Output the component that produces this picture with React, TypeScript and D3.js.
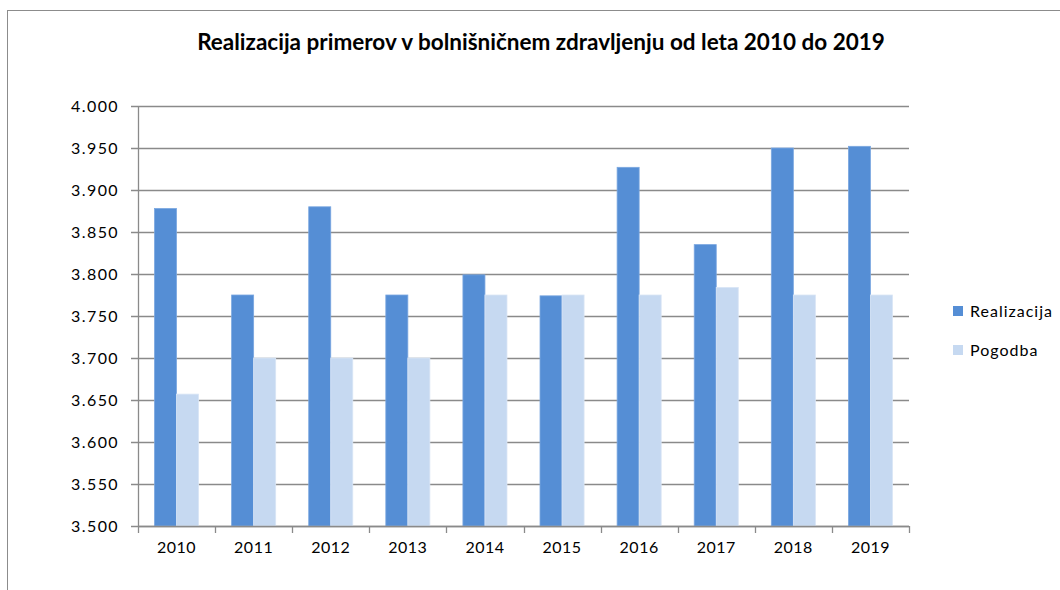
import React, { useRef, useEffect } from 'react';
import * as d3 from 'd3';

const years = ['2010', '2011', '2012', '2013', '2014', '2015', '2016', '2017', '2018', '2019'];
const realizacija = [3.878, 3.775, 3.880, 3.775, 3.799, 3.774, 3.927, 3.835, 3.950, 3.952];
const pogodba = [3.657, 3.700, 3.700, 3.700, 3.775, 3.775, 3.775, 3.784, 3.775, 3.775];
const yTicks = [3.5, 3.55, 3.6, 3.65, 3.7, 3.75, 3.8, 3.85, 3.9, 3.95, 4.0];
const seriesNames = ['Realizacija', 'Pogodba'];
const seriesColors = ['#558ED5', '#C6D9F1'];
const title = 'Realizacija primerov v bolnišničnem zdravljenju od leta 2010 do 2019';

const W = 1060;
const H = 590;
const FONT = 'Lato, "Open Sans", sans-serif';

const App: React.FC = () => {
    const svgRef = useRef<SVGSVGElement>(null);

    useEffect(() => {
        if (!svgRef.current) return;
        const svg = d3.select(svgRef.current);
        svg.selectAll('*').remove();

        const plot = { left: 138, right: 909, top: 106, bottom: 526 };

        // chart frame
        svg.append('rect')
            .attr('x', 7.5).attr('y', 10.5)
            .attr('width', W + 20).attr('height', H + 20)
            .attr('fill', '#fff')
            .attr('stroke', '#8c8c8c')
            .attr('stroke-width', 1);

        svg.append('text')
            .attr('x', 541).attr('y', 50)
            .attr('text-anchor', 'middle')
            .attr('font-family', FONT)
            .attr('font-weight', 'bold')
            .attr('font-size', 22.5)
            .attr('fill', '#000')
            .text(title);

        const y = d3.scaleLinear().domain([3.5, 4.0]).range([plot.bottom, plot.top]);
        const x = d3.scaleBand().domain(years).range([plot.left, plot.right]).paddingInner(0).paddingOuter(0);
        const inner = d3.scaleBand().domain(seriesNames)
            .range([0, x.bandwidth()]).paddingInner(0).paddingOuter(0.75);

        const g = svg.append('g');

        // grid lines
        g.selectAll('.grid')
            .data(yTicks)
            .enter().append('line')
            .attr('x1', plot.left - 7).attr('x2', plot.right)
            .attr('y1', d => Math.round(y(d)) + 0.5).attr('y2', d => Math.round(y(d)) + 0.5)
            .attr('stroke', '#8a8a8a')
            .attr('stroke-width', 1.3);

        // y labels
        g.selectAll('.ylab')
            .data(yTicks)
            .enter().append('text')
            .attr('x', 119)
            .attr('y', d => y(d) + 6)
            .attr('text-anchor', 'end')
            .attr('font-family', FONT)
            .attr('font-size', 16)
            .attr('letter-spacing', 1.4)
            .attr('fill', '#000')
            .text(d => d.toFixed(3));

        // bars
        const series = [realizacija, pogodba];
        series.forEach((vals, si) => {
            g.selectAll(`.bar${si}`)
                .data(vals)
                .enter().append('rect')
                .attr('x', (_d, i) => x(years[i])! + inner(seriesNames[si])!)
                .attr('y', d => y(d))
                .attr('width', inner.bandwidth())
                .attr('height', d => plot.bottom - y(d))
                .attr('fill', seriesColors[si])
                .attr('stroke', si === 0 ? '#7aa7e0' : '#d9e5f5')
                .attr('stroke-width', 0.8);
        });

        // axes
        g.append('line')
            .attr('x1', plot.left + 0.5).attr('x2', plot.left + 0.5)
            .attr('y1', plot.top).attr('y2', plot.bottom)
            .attr('stroke', '#8a8a8a').attr('stroke-width', 1.3);
        g.append('line')
            .attr('x1', plot.left).attr('x2', plot.right)
            .attr('y1', plot.bottom + 0.5).attr('y2', plot.bottom + 0.5)
            .attr('stroke', '#8a8a8a').attr('stroke-width', 1.3);

        const tickXs = years.map(yr => x(yr)!).concat([plot.right]);
        g.selectAll('.xtick')
            .data(tickXs)
            .enter().append('line')
            .attr('x1', d => Math.round(d) + 0.5).attr('x2', d => Math.round(d) + 0.5)
            .attr('y1', plot.bottom).attr('y2', plot.bottom + 7)
            .attr('stroke', '#8a8a8a').attr('stroke-width', 1.3);

        g.selectAll('.xlab')
            .data(years)
            .enter().append('text')
            .attr('x', d => x(d)! + x.bandwidth() / 2)
            .attr('y', 553)
            .attr('text-anchor', 'middle')
            .attr('font-family', FONT)
            .attr('font-size', 16)
            .attr('letter-spacing', 0.5)
            .attr('fill', '#000')
            .text(d => d);

        // legend
        const legend = svg.append('g');
        seriesNames.forEach((name, i) => {
            const ly = 306 + i * 39;
            legend.append('rect')
                .attr('x', 953).attr('y', ly)
                .attr('width', 10).attr('height', 10)
                .attr('fill', seriesColors[i]);
            legend.append('text')
                .attr('x', 970).attr('y', ly + 11)
                .attr('font-family', FONT)
                .attr('font-size', 16)
                .attr('letter-spacing', 1)
                .attr('fill', '#000')
                .text(name);
        });
    }, []);

    return (
        <svg
            ref={svgRef}
            width={W}
            height={H}
            style={{ position: 'absolute', left: 0, top: 0 }}
            viewBox={`0 0 ${W} ${H}`}
        />
    );
};

export default App;
